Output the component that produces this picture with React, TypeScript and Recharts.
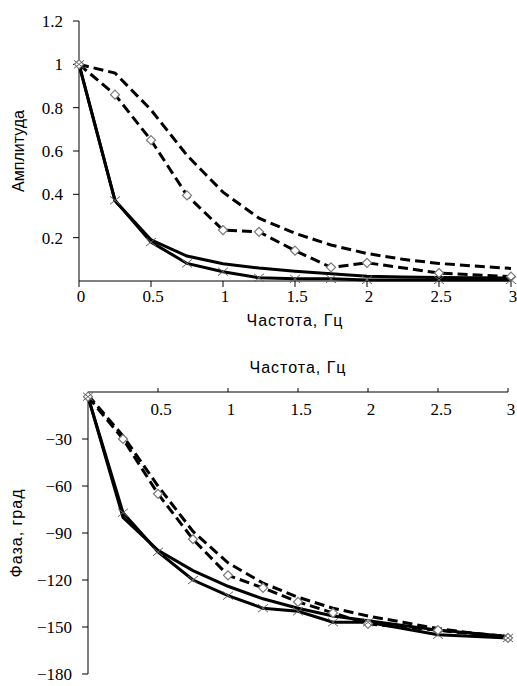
import { Label, Line, LineChart, XAxis, YAxis } from 'recharts';

// частоты, Гц
const freqDense = [0, 0.25, 0.5, 0.75, 1, 1.25, 1.5, 1.75, 2, 2.25, 2.5, 2.75, 3];
const freqMarked = [0, 0.25, 0.5, 0.75, 1, 1.25, 1.5, 1.75, 2, 2.5, 3];

// амплитуда
const ampDashed = [1, 0.96, 0.79, 0.58, 0.41, 0.29, 0.22, 0.166, 0.127, 0.1, 0.081, 0.069, 0.058];
const ampDiamond = [1, 0.86, 0.65, 0.395, 0.235, 0.227, 0.14, 0.063, 0.084, 0.037, 0.02];
const ampSolid = [1, 0.37, 0.19, 0.115, 0.08, 0.06, 0.045, 0.033, 0.022, 0.018, 0.016, 0.015, 0.014];
const ampCross = [1, 0.372, 0.18, 0.081, 0.043, 0.015, 0.01, 0.01, 0.005, 0.005, 0.005];

// фаза, град
const phaseDashed = [-2, -28, -60, -89, -109, -122, -131, -138, -143, -147, -151, -154, -156];
const phaseDiamond = [-3, -30, -65, -94, -117, -125, -134, -141, -148, -152, -157];
const phaseSolid = [-3, -80, -101, -114, -124, -132, -138, -143, -146, -149, -152, -154, -156];
const phaseCross = [-3, -77, -102, -120, -130, -138, -140, -147, -147, -155, -157];

const freqTicks = [0, 0.5, 1, 1.5, 2, 2.5, 3];
const freqTicksPhase = [0.5, 1, 1.5, 2, 2.5, 3];
const ampTicks = [0.2, 0.4, 0.6, 0.8, 1, 1.2];
const phaseTicks = [-180, -150, -120, -90, -60, -30];

const pts = (xs: number[], ys: number[]) => xs.map((f, i) => ({ f, v: ys[i] }));

const tickFont = { fill: '#000', fontFamily: '"Liberation Serif", serif', fontSize: 17 };
const titleFont = {
  fill: '#000',
  fontFamily: '"Liberation Sans", sans-serif',
  fontSize: 16,
  letterSpacing: 1,
};

const Diamond = (p: any) => {
  const { cx, cy, index } = p;
  if (cx == null || cy == null) return <g key={index} />;
  const r = 4.5;
  return (
    <path
      key={index}
      d={`M${cx},${cy - r}L${cx + r},${cy}L${cx},${cy + r}L${cx - r},${cy}Z`}
      fill="#fff"
      stroke="#777"
      strokeWidth={1.2}
    />
  );
};

const Cross = (p: any) => {
  const { cx, cy, index } = p;
  if (cx == null || cy == null) return <g key={index} />;
  const w = 5;
  const h = 4;
  return (
    <path
      key={index}
      d={`M${cx - w},${cy - h}L${cx + w},${cy + h}M${cx + w},${cy - h}L${cx - w},${cy + h}`}
      fill="none"
      stroke="#666"
      strokeWidth={1}
    />
  );
};

function series(d: number[], dm: number[], s: number[], c: number[]) {
  return [
    <Line key="s" data={pts(freqDense, s)} dataKey="v" type="linear" stroke="#000" strokeWidth={3} dot={false} isAnimationActive={false} />,
    <Line key="d" data={pts(freqDense, d)} dataKey="v" type="linear" stroke="#000" strokeWidth={3} strokeDasharray="10 5" dot={false} isAnimationActive={false} />,
    <Line key="dm" data={pts(freqMarked, dm)} dataKey="v" type="linear" stroke="#000" strokeWidth={3} strokeDasharray="10 5" dot={Diamond} isAnimationActive={false} />,
    <Line key="c" data={pts(freqMarked, c)} dataKey="v" type="linear" stroke="#000" strokeWidth={3} dot={Cross} isAnimationActive={false} />,
  ];
}

export default function App() {
  return (
    <div>
      <div style={{ position: 'absolute', left: 0, top: 0 }}>
        <LineChart width={517} height={340} margin={{ top: 21, right: 6, bottom: 9, left: 19 }}>
          <XAxis
            type="number"
            dataKey="f"
            domain={[0, 3]}
            ticks={freqTicks}
            height={50}
            stroke="#000"
            tickSize={6}
            tickMargin={3}
            tick={{ ...tickFont, dx: 2 }}
          >
            <Label value="Частота, Гц" position="insideBottom" offset={5} style={titleFont} />
          </XAxis>
          <YAxis
            type="number"
            domain={[0, 1.2]}
            ticks={ampTicks}
            width={60}
            stroke="#000"
            tickSize={6}
            tickMargin={10}
            tick={tickFont}
          >
            <Label value="Амплитуда" angle={-90} position="insideLeft" offset={-1} style={{ ...titleFont, letterSpacing: 0, textAnchor: 'middle' }} />
          </YAxis>
          {series(ampDashed, ampDiamond, ampSolid, ampCross)}
        </LineChart>
      </div>
      <div style={{ position: 'absolute', left: 0, top: 340 }}>
        <LineChart width={517} height={346} margin={{ top: 10, right: 9, bottom: 12, left: 28 }}>
          <XAxis
            type="number"
            dataKey="f"
            orientation="top"
            domain={[0, 3]}
            ticks={freqTicksPhase}
            height={42}
            stroke="#000"
            tickSize={4}
            tickMargin={0}
            tick={{ ...tickFont, dy: 27, dx: 3 }}
          >
            <Label value="Частота, Гц" position="insideTop" offset={12} style={titleFont} />
          </XAxis>
          <YAxis
            type="number"
            domain={[-180, 0]}
            ticks={phaseTicks}
            width={60}
            stroke="#000"
            tickSize={6}
            tickMargin={10}
            tick={tickFont}
            tickFormatter={(v: number) => String(v).replace('-', '−')}
          >
            <Label value="Фаза, град" angle={-90} position="insideLeft" offset={-12} style={{ ...titleFont, textAnchor: 'middle' }} />
          </YAxis>
          {series(phaseDashed, phaseDiamond, phaseSolid, phaseCross)}
        </LineChart>
      </div>
    </div>
  );
}
